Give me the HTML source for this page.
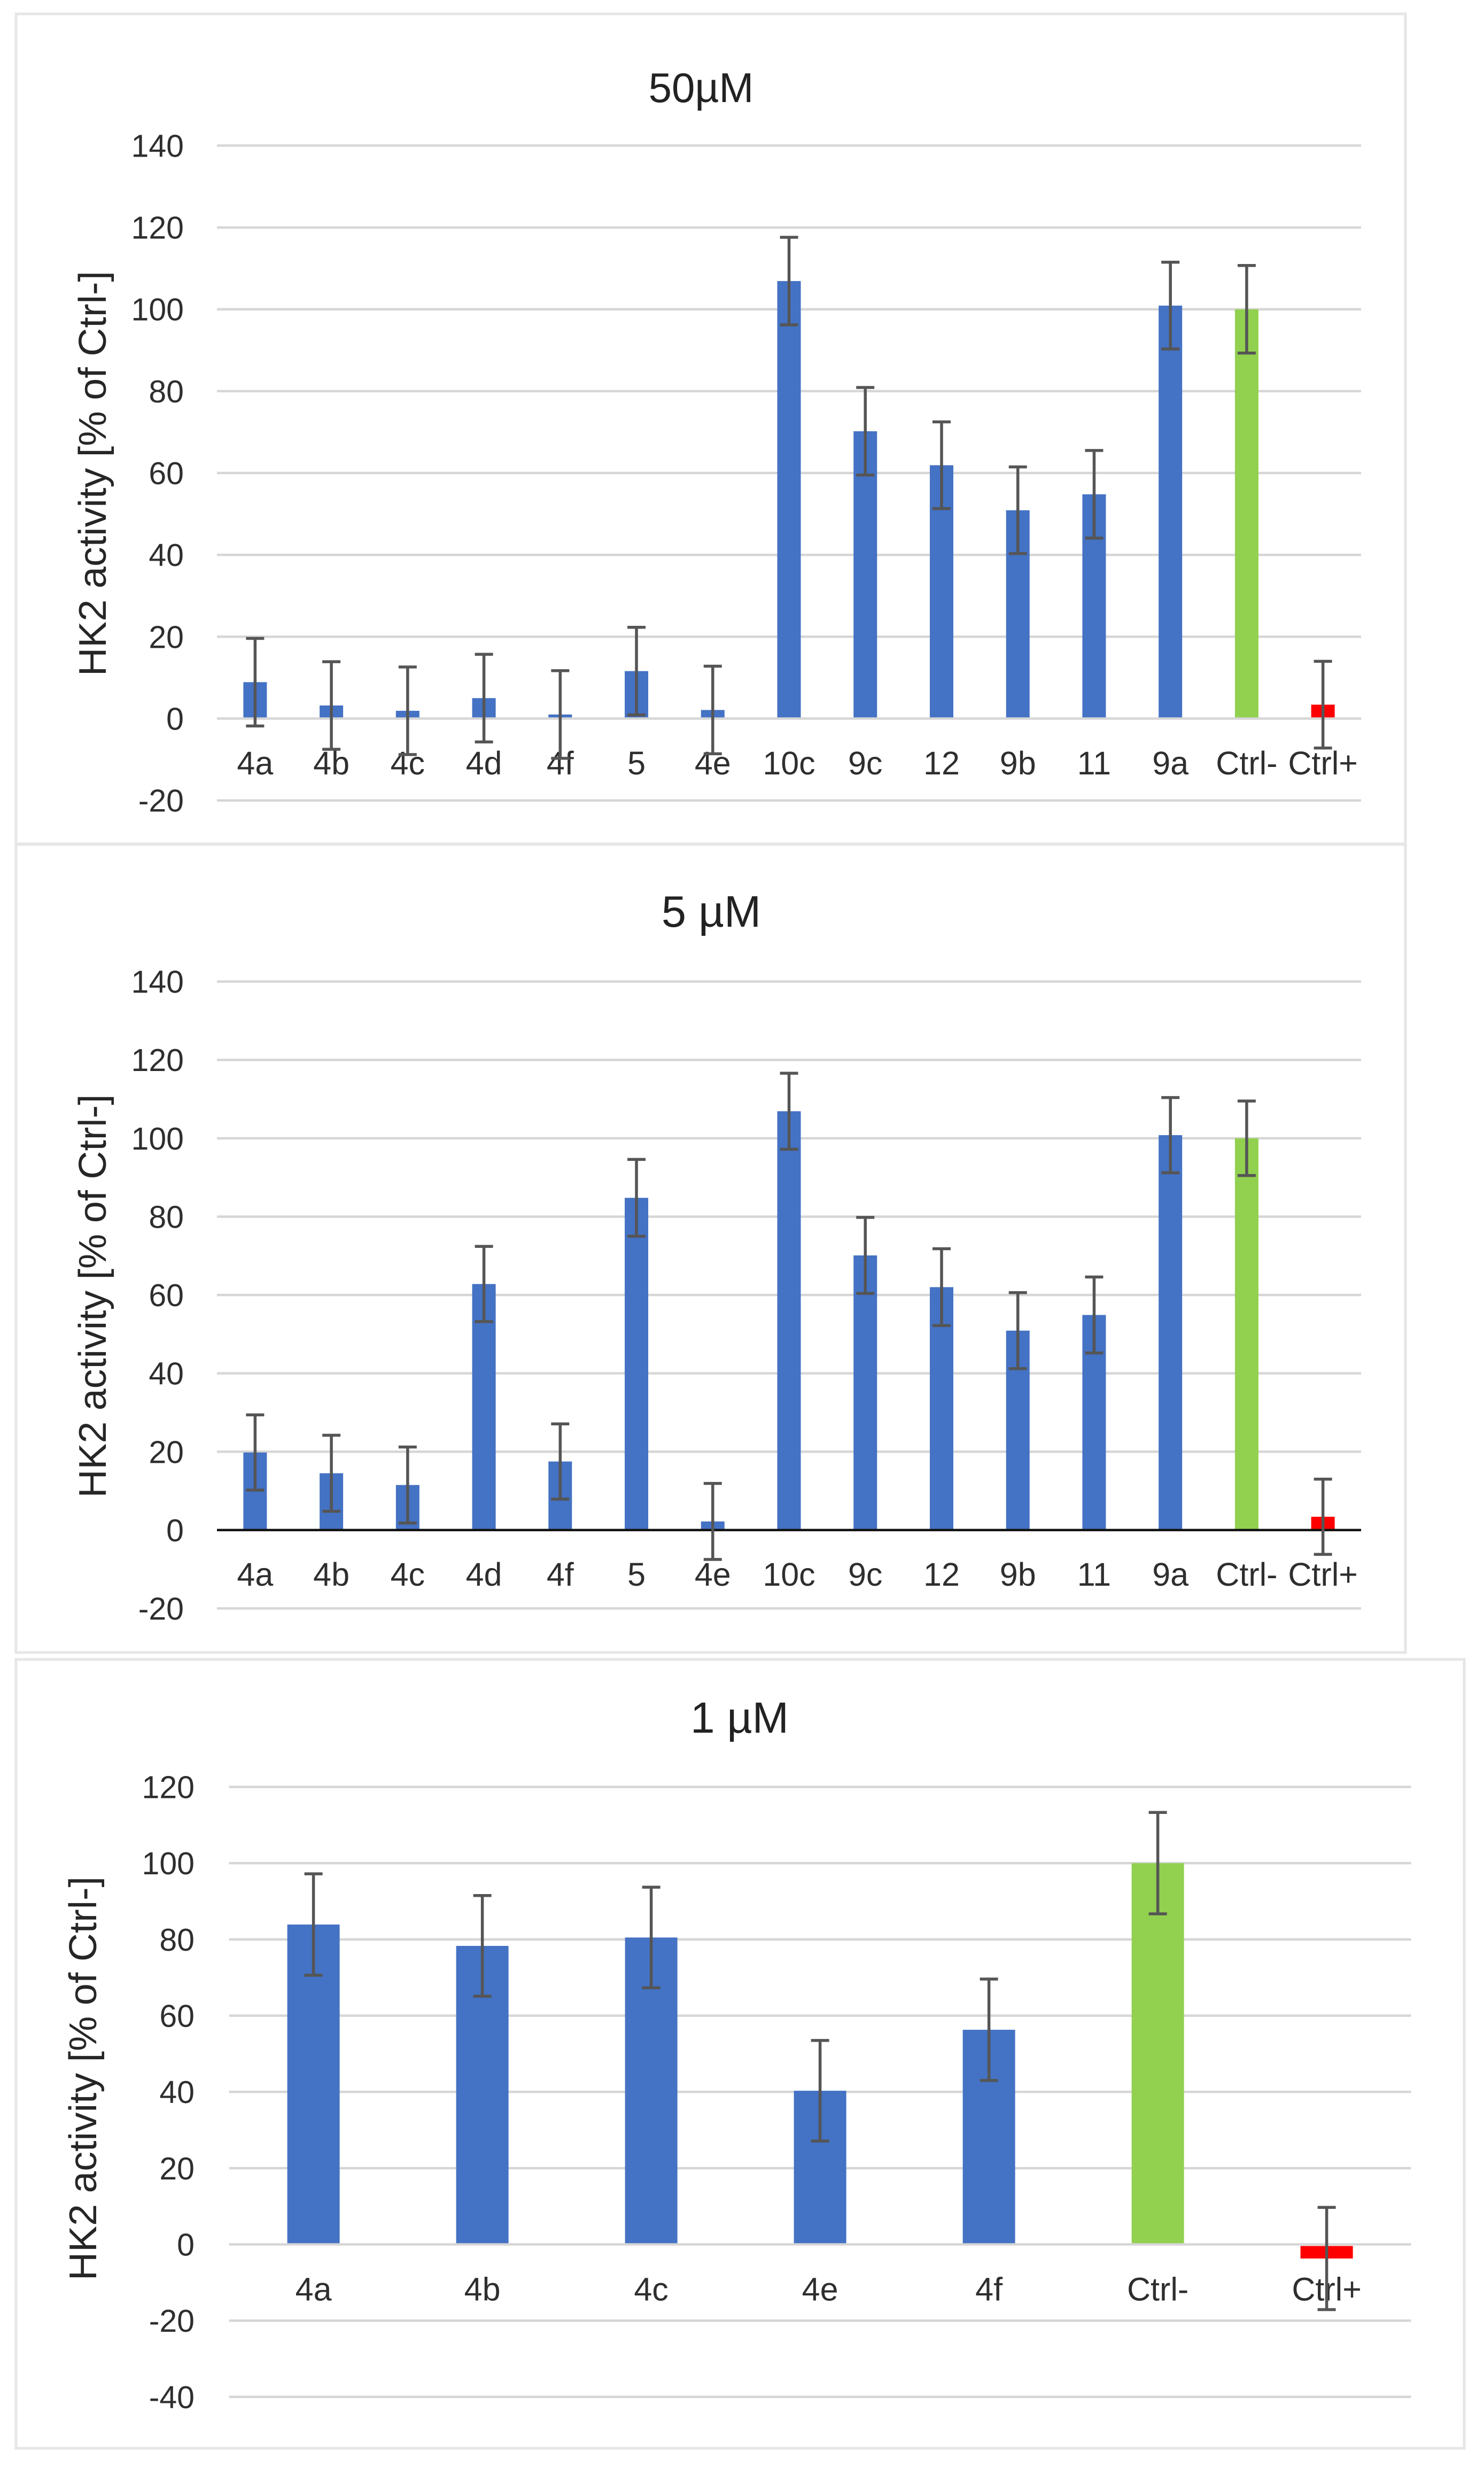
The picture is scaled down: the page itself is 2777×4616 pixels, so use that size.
<!DOCTYPE html>
<html lang="en">
<head>
<meta charset="utf-8">
<title>HK2 activity charts</title>
<style>
html,body{margin:0;padding:0;background:#fff;width:2777px;height:4616px;overflow:hidden}
svg{display:block;font-family:"Liberation Sans",sans-serif}
</style>
</head>
<body>
<svg id="figure" xmlns="http://www.w3.org/2000/svg" width="2777" height="4616" viewBox="0 0 2777 4616"></svg>
<script>
const categories50 = ['4a','4b','4c','4d','4f','5','4e','10c','9c','12','9b','11','9a','Ctrl-','Ctrl+'];
const values50 = [8.9,3.2,1.9,5,1,11.6,2.1,106.9,70.2,61.9,50.9,54.8,100.9,100,3.4];
const errors50 = [10.7,10.7,10.7,10.7,10.7,10.7,10.7,10.7,10.7,10.6,10.6,10.7,10.6,10.7,10.6];
const ticks50 = [140,120,100,80,60,40,20,0,-20];

const categories5 = ['4a','4b','4c','4d','4f','5','4e','10c','9c','12','9b','11','9a','Ctrl-','Ctrl+'];
const values5 = [19.8,14.5,11.5,62.8,17.5,84.8,2.2,106.9,70.1,62,50.9,54.9,100.8,100,3.4];
const errors5 = [9.6,9.7,9.7,9.6,9.6,9.8,9.7,9.7,9.7,9.8,9.7,9.7,9.6,9.5,9.6];
const ticks5 = [140,120,100,80,60,40,20,0,-20];

const categories1 = ['4a','4b','4c','4e','4f','Ctrl-','Ctrl+'];
const values1 = [83.9,78.3,80.5,40.3,56.3,100,-3.7];
const errors1 = [13.3,13.2,13.2,13.2,13.3,13.3,13.4];
const ticks1 = [120,100,80,60,40,20,0,-20,-40];

const BLUE = '#4472c4', GREEN = '#92d050', RED = '#ff0000';
const SVG_NS = 'http://www.w3.org/2000/svg';
const root = document.getElementById('figure');

function make(parent, tag, props, text) {
  const node = document.createElementNS(SVG_NS, tag);
  for (const key in props) node.setAttribute(key, props[key]);
  if (text !== undefined) node.textContent = text;
  parent.appendChild(node);
  return node;
}

function drawChart(cfg, categories, values, errors, ticks) {
  const group = make(root, 'g', {});
  
  

  const frame = make(group, 'rect', {x: cfg.frame[0], y: cfg.frame[1], width: cfg.frame[2] - cfg.frame[0], height: cfg.frame[3] - cfg.frame[1], fill: '#fff', stroke: '#e6e6e6', 'stroke-width': 5});
  
  

  const title = make(group, 'text', {x: cfg.titleX, y: cfg.titleY, 'font-size': cfg.titleSize, fill: '#222', 'text-anchor': 'middle'}, cfg.title);
  
  

  const yTitle = make(group, 'text', {transform: 'translate(' + cfg.yTitleX + ' ' + cfg.yTitleY + ') rotate(-90)', 'font-size': 72, fill: '#262626', 'text-anchor': 'middle', textLength: cfg.yTitleLen, lengthAdjust: 'spacingAndGlyphs'}, 'HK2 activity [% of Ctrl-]');
  
  

  const topTick = ticks[0], bottomTick = ticks[ticks.length - 1];
  const yScale = v => cfg.yTop + (topTick - v) * (cfg.yBottom - cfg.yTop) / (topTick - bottomTick);
  const band = (cfg.xRight - cfg.xLeft) / categories.length;
  const xScale = i => cfg.xLeft + band * (i + 0.5);

  ticks.forEach(t => {
    if (t === 0) return;
    const line = make(group, 'line', {x1: cfg.xLeft, x2: cfg.xRight, y1: yScale(t), y2: yScale(t), stroke: '#d6d6d6', 'stroke-width': 4.5});
    
    
  });

  ticks.forEach(t => {
    const label = make(group, 'text', {x: cfg.tickRight, y: yScale(t) + 21, 'font-size': 59, fill: '#2e2e2e', 'text-anchor': 'end'}, String(t));
    
    
  });

  const zero = yScale(0);
  categories.forEach((c, i) => {
    const v = values[i];
    const top = v >= 0 ? yScale(v) : zero + 3;
    const bottom = v >= 0 ? zero - 2 : yScale(v);
    const color = c === 'Ctrl-' ? GREEN : (c === 'Ctrl+' ? RED : BLUE);
    const bar = make(group, 'rect', {x: xScale(i) - cfg.barWidth / 2, y: top, width: cfg.barWidth, height: Math.max(0, bottom - top), fill: color});
    
    
  });

  const zeroLine = make(group, 'line', {x1: cfg.xLeft, x2: cfg.xRight, y1: zero, y2: zero, stroke: cfg.zeroColor, 'stroke-width': cfg.zeroWidth});
  
  

  categories.forEach((c, i) => {
    const label = make(group, 'text', {x: xScale(i), y: cfg.labelY, 'font-size': 61, fill: '#2e2e2e', 'text-anchor': 'middle'}, c);
    
    
  });

  categories.forEach((c, i) => {
    const x = xScale(i), hi = yScale(values[i] + errors[i]), lo = yScale(values[i] - errors[i]);
    const err = make(group, 'path', {d: 'M' + (x - 17) + ' ' + hi + 'H' + (x + 17) + 'M' + x + ' ' + hi + 'V' + lo + 'M' + (x - 17) + ' ' + lo + 'H' + (x + 17), fill: 'none', stroke: '#555', 'stroke-width': 5.5});
    
    
  });
}

drawChart({id: '50uM', title: '50µM', titleSize: 78, frame: [30, 26, 2630, 1579], titleX: 1312, titleY: 191,
  yTitleX: 198, yTitleY: 886, yTitleLen: 758, xLeft: 406, xRight: 2547, yTop: 272.4, yBottom: 1497.7,
  tickRight: 344, labelY: 1449, barWidth: 44, zeroColor: '#d6d6d6', zeroWidth: 4.5},
  categories50, values50, errors50, ticks50);

drawChart({id: '5uM', title: '5 µM', titleSize: 83, frame: [30, 1580, 2630, 3092], titleX: 1331, titleY: 1734,
  yTitleX: 198, yTitleY: 2425, yTitleLen: 755, xLeft: 406, xRight: 2547, yTop: 1836.6, yBottom: 3009.5,
  tickRight: 344, labelY: 2967, barWidth: 44, zeroColor: '#111', zeroWidth: 4.5},
  categories5, values5, errors5, ticks5);

drawChart({id: '1uM', title: '1 µM', titleSize: 82, frame: [30, 3105, 2740, 4581], titleX: 1384, titleY: 3242,
  yTitleX: 180, yTitleY: 3889, yTitleLen: 756, xLeft: 428.6, xRight: 2640.6, yTop: 3343.5, yBottom: 4484.8,
  tickRight: 364, labelY: 4304.5, barWidth: 98, zeroColor: '#d6d6d6', zeroWidth: 4.5},
  categories1, values1, errors1, ticks1);
</script>
</body>
</html>
